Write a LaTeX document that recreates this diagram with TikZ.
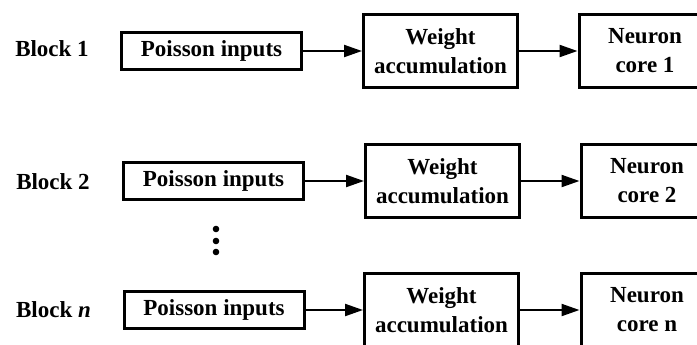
\documentclass[tikz,border=0pt]{standalone}
\usepackage{fontspec}
\setmainfont{Liberation Serif}
\usetikzlibrary{arrows.meta}
\begin{document}
\begin{tikzpicture}[x=0.5pt,y=-0.5pt,
        lbl/.style={font=\fontsize{11.5}{14.5}\selectfont\bfseries},
        inbox/.style={draw,line width=1.5pt,inner sep=0pt,minimum width=90pt,minimum height=18.5pt,lbl},
        wbox/.style={draw,line width=1.5pt,inner sep=0pt,minimum width=77pt,minimum height=36.5pt,align=center,lbl},
        cbox/.style={draw,line width=1.5pt,inner sep=0pt,minimum width=66pt,minimum height=36.5pt,align=center,lbl},
        flow/.style={-{Triangle[length=9pt,width=6pt]},line width=1.1pt},
        vdot/.style={circle,fill,inner sep=0pt,minimum size=3.3pt}]
        \useasboundingbox (0,0) rectangle (697,344);
        \clip (0,0) rectangle (697,344);
        % block 1
        \node[lbl] (blkA) at (52,49) {Block 1};
        \node[inbox] (inA) at (211.5,51) {Poisson inputs};
        \node[wbox] (wacA) at (440.5,51) {Weight\\accumulation};
        \node[cbox] (coreA) at (645,51) {Neuron\\core 1};
        \draw[flow] (inA.east) -- (wacA.west);
        \draw[flow] (wacA.east) -- (coreA.west);
        % block 2
        \node[lbl] (blkB) at (53,182) {Block 2};
        \node[inbox] (inB) at (213.5,181) {Poisson inputs};
        \node[wbox] (wacB) at (442.5,181) {Weight\\accumulation};
        \node[cbox] (coreB) at (647,181) {Neuron\\core 2};
        \draw[flow] (inB.east) -- (wacB.west);
        \draw[flow] (wacB.east) -- (coreB.west);
        % dots
        \node[vdot] (dotA) at (216,229) {};
        \node[vdot] (dotB) at (216,241) {};
        \node[vdot] (dotC) at (216,252) {};
        % block n
        \node[lbl] (blkN) at (53.5,310) {Block \textit{n}};
        \node[inbox] (inN) at (214,310) {Poisson inputs};
        \node[wbox] (wacN) at (441.5,310) {Weight\\accumulation};
        \node[cbox] (coreN) at (647,310) {Neuron\\core n};
        \draw[flow] (inN.east) -- (wacN.west);
        \draw[flow] (wacN.east) -- (coreN.west);
    \end{tikzpicture}
\end{document}
